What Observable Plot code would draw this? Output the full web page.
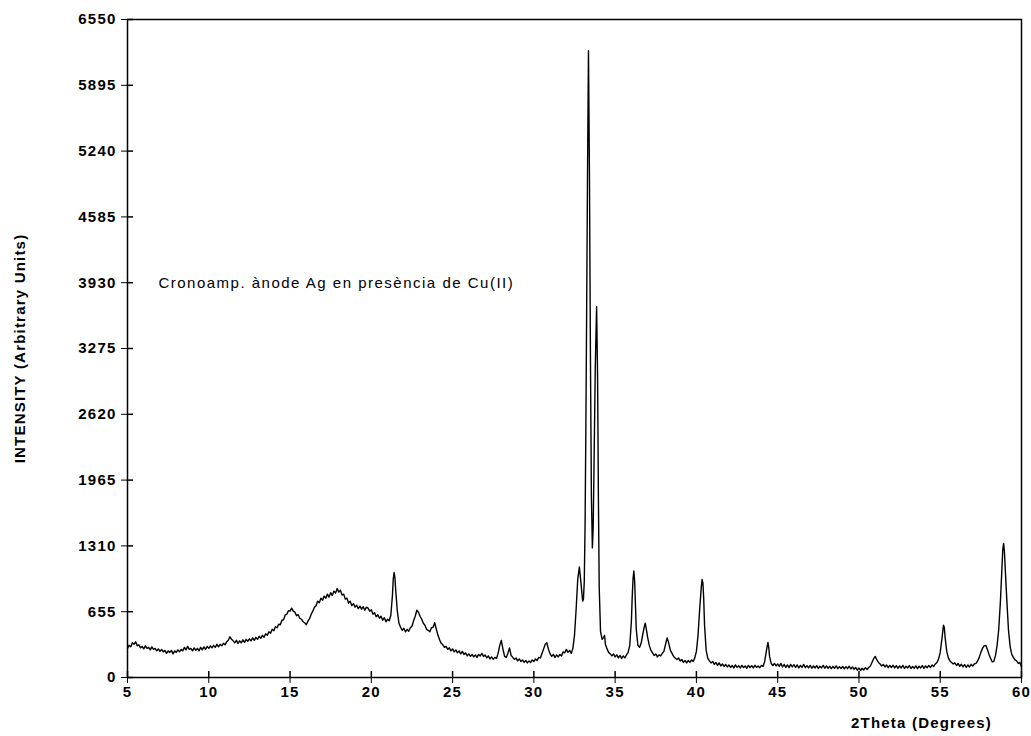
<!DOCTYPE html>
<html>
<head>
<meta charset="utf-8">
<script src="https://cdn.jsdelivr.net/npm/d3@7"></script>
<script src="https://cdn.jsdelivr.net/npm/@observablehq/plot@0.6"></script>
<style>
  html, body { margin: 0; padding: 0; background: #fff; }
  #chart svg text { letter-spacing: 1.2px; }
  #chart svg .note text, #chart svg text.note { letter-spacing: 1.5px; }
</style>
</head>
<body>
<div id="chart"></div>
<script>
// X-ray diffraction scan: [2theta (degrees), intensity (arbitrary units)]
const scan = [
[5.0,290],[5.1,320],[5.2,305],[5.3,345],[5.4,330],[5.5,355],[5.6,315],[5.7,325],[5.8,295],[5.9,310],
[6.0,285],[6.1,315],[6.2,290],[6.3,300],[6.4,275],[6.5,305],[6.6,280],[6.7,290],[6.8,265],[6.9,285],
[7.0,260],[7.1,280],[7.2,255],[7.3,270],[7.4,240],[7.5,265],[7.6,250],[7.7,270],[7.8,235],[7.9,265],
[8.0,250],[8.1,275],[8.2,255],[8.3,280],[8.4,265],[8.5,300],[8.6,275],[8.7,310],[8.8,280],[8.9,290],
[9.0,265],[9.1,295],[9.2,270],[9.3,290],[9.4,265],[9.5,300],[9.6,275],[9.7,305],[9.8,280],[9.9,310],
[10.0,290],[10.1,315],[10.2,295],[10.3,320],[10.4,300],[10.5,330],[10.6,305],[10.7,330],[10.8,315],[10.9,340],
[11.0,325],[11.1,355],[11.2,370],[11.3,405],[11.4,380],[11.5,365],[11.6,345],[11.7,370],[11.8,340],[11.9,365],
[12.0,345],[12.1,375],[12.2,350],[12.3,380],[12.4,360],[12.5,385],[12.6,365],[12.7,395],[12.8,370],[12.9,400],
[13.0,380],[13.1,410],[13.2,390],[13.3,420],[13.4,400],[13.5,435],[13.6,420],[13.7,455],[13.8,440],[13.9,480],
[14.0,465],[14.1,505],[14.2,495],[14.3,530],[14.4,525],[14.5,570],[14.6,575],[14.7,620],[14.8,630],[14.9,665],
[15.0,660],[15.1,690],[15.2,660],[15.3,650],[15.4,615],[15.5,625],[15.6,590],[15.7,580],[15.8,555],[15.9,545],
[16.0,525],[16.1,560],[16.2,585],[16.3,630],[16.4,660],[16.5,700],[16.6,715],[16.7,760],[16.8,745],[16.9,790],
[17.0,770],[17.1,810],[17.2,790],[17.3,830],[17.4,800],[17.5,845],[17.6,815],[17.7,860],[17.8,840],[17.9,885],
[18.0,850],[18.1,870],[18.2,820],[18.3,830],[18.4,780],[18.5,790],[18.6,740],[18.7,760],[18.8,715],[18.9,735],
[19.0,700],[19.1,720],[19.2,685],[19.3,710],[19.4,680],[19.5,705],[19.6,670],[19.7,700],[19.8,690],[19.9,660],
[20.0,675],[20.1,630],[20.2,645],[20.3,605],[20.4,625],[20.5,590],[20.6,610],[20.7,570],[20.8,595],[20.9,555],
[21.0,580],[21.1,565],[21.2,620],[21.3,820],[21.35,980],[21.4,1045],[21.45,1000],[21.5,870],[21.6,660],[21.7,540],[21.8,500],[21.9,470],
[22.0,490],[22.1,455],[22.2,480],[22.3,460],[22.4,495],[22.5,510],[22.6,565],[22.7,610],[22.8,670],[22.9,650],
[23.0,610],[23.1,580],[23.2,540],[23.3,520],[23.4,480],[23.5,470],[23.6,455],[23.7,495],[23.8,500],[23.9,545],
[24.0,480],[24.1,420],[24.2,375],[24.3,340],[24.4,325],[24.5,300],[24.6,310],[24.7,280],[24.8,295],[24.9,265],
[25.0,285],[25.1,255],[25.2,275],[25.3,245],[25.4,265],[25.5,235],[25.6,260],[25.7,230],[25.8,245],[25.9,215],
[26.0,235],[26.1,210],[26.2,230],[26.3,205],[26.4,225],[26.5,200],[26.6,230],[26.7,215],[26.8,240],[26.9,210],
[27.0,225],[27.1,195],[27.2,215],[27.3,185],[27.4,205],[27.5,180],[27.6,200],[27.7,190],[27.8,240],[27.9,320],
[28.0,370],[28.1,280],[28.2,210],[28.3,200],[28.4,240],[28.5,295],[28.6,220],[28.7,200],[28.8,180],[28.9,195],
[29.0,165],[29.1,185],[29.2,160],[29.3,175],[29.4,150],[29.5,170],[29.6,145],[29.7,165],[29.8,150],[29.9,175],
[30.0,160],[30.1,185],[30.2,170],[30.3,200],[30.4,195],[30.5,240],[30.6,285],[30.7,330],[30.8,345],[30.9,280],
[31.0,235],[31.1,210],[31.2,230],[31.3,200],[31.4,225],[31.5,205],[31.6,230],[31.7,215],[31.8,255],[31.9,245],
[32.0,280],[32.1,250],[32.2,270],[32.3,240],[32.4,290],[32.5,420],[32.6,680],[32.7,980],[32.8,1100],[32.9,940],
[33.0,760],[33.05,780],[33.1,950],[33.15,1500],[33.2,2500],[33.25,3700],[33.3,5000],[33.36,6240],[33.42,5000],[33.48,3200],[33.54,1800],[33.6,1290],
[33.65,1500],[33.7,2100],[33.78,3100],[33.86,3690],[33.92,3000],[33.97,1800],[34.02,900],
[34.1,460],[34.2,380],[34.3,400],[34.35,420],[34.4,330],[34.5,285],[34.6,250],[34.7,235],[34.8,215],[34.9,235],
[35.0,205],[35.1,225],[35.2,195],[35.3,220],[35.4,190],[35.5,215],[35.6,195],[35.7,225],[35.8,250],[35.9,320],
[36.0,560],[36.05,800],[36.1,980],[36.15,1060],[36.2,960],[36.25,720],[36.3,480],[36.4,320],[36.5,300],[36.6,340],[36.7,430],[36.8,510],[36.85,540],[36.9,500],
[37.0,400],[37.1,320],[37.2,270],[37.3,245],[37.4,220],[37.5,235],[37.6,205],[37.7,225],[37.8,215],[37.9,240],
[38.0,260],[38.1,330],[38.2,395],[38.3,340],[38.4,270],[38.5,240],[38.6,210],[38.7,195],[38.8,180],[38.9,195],
[39.0,165],[39.1,180],[39.2,150],[39.3,170],[39.4,145],[39.5,170],[39.6,150],[39.7,175],[39.8,160],[39.9,195],
[40.0,260],[40.1,420],[40.2,680],[40.3,900],[40.35,975],[40.4,940],[40.45,780],[40.5,520],[40.6,270],[40.7,190],[40.8,165],[40.9,145],
[41.0,160],[41.1,130],[41.2,150],[41.3,120],[41.4,145],[41.5,115],[41.6,135],[41.7,110],[41.8,130],[41.9,105],
[42.0,125],[42.1,100],[42.2,120],[42.3,95],[42.4,125],[42.5,100],[42.6,118],[42.7,95],[42.8,120],[42.9,100],
[43.0,115],[43.1,92],[43.2,120],[43.3,98],[43.4,118],[43.5,95],[43.6,122],[43.7,100],[43.8,115],[43.9,98],
[44.0,120],[44.1,110],[44.2,160],[44.3,260],[44.4,350],[44.45,300],[44.5,210],[44.6,140],[44.7,120],[44.8,140],[44.9,115],
[45.0,135],[45.1,110],[45.2,140],[45.3,105],[45.4,130],[45.5,100],[45.6,125],[45.7,98],[45.8,130],[45.9,105],
[46.0,128],[46.1,100],[46.2,125],[46.3,95],[46.4,120],[46.5,100],[46.6,130],[46.7,98],[46.8,118],[46.9,95],
[47.0,120],[47.1,92],[47.2,115],[47.3,95],[47.4,118],[47.5,90],[47.6,112],[47.7,95],[47.8,120],[47.9,92],
[48.0,115],[48.1,90],[48.2,112],[48.3,88],[48.4,110],[48.5,92],[48.6,115],[48.7,88],[48.8,108],[48.9,90],
[49.0,110],[49.1,85],[49.2,108],[49.3,88],[49.4,112],[49.5,85],[49.6,105],[49.7,82],[49.8,100],[49.9,72],
[50.0,95],[50.1,70],[50.2,92],[50.3,75],[50.4,98],[50.5,80],[50.6,100],[50.7,115],[50.8,150],[50.9,185],
[51.0,210],[51.1,175],[51.2,150],[51.3,135],[51.4,115],[51.5,130],[51.6,105],[51.7,125],[51.8,98],[51.9,120],
[52.0,100],[52.1,122],[52.2,95],[52.3,118],[52.4,92],[52.5,115],[52.6,95],[52.7,120],[52.8,90],[52.9,112],
[53.0,95],[53.1,118],[53.2,90],[53.3,110],[53.4,92],[53.5,115],[53.6,88],[53.7,112],[53.8,95],[53.9,118],
[54.0,92],[54.1,115],[54.2,98],[54.3,120],[54.4,100],[54.5,125],[54.6,110],[54.7,135],[54.8,150],[54.9,185],
[55.0,250],[55.1,380],[55.2,520],[55.25,500],[55.3,400],[55.4,260],[55.5,195],[55.6,165],[55.7,150],[55.8,135],[55.9,145],
[56.0,120],[56.1,140],[56.2,110],[56.3,132],[56.4,105],[56.5,128],[56.6,100],[56.7,125],[56.8,105],[56.9,130],
[57.0,115],[57.1,135],[57.2,140],[57.3,165],[57.4,200],[57.5,250],[57.6,290],[57.7,315],[57.8,320],[57.9,280],
[58.0,230],[58.1,190],[58.2,155],[58.3,160],[58.4,220],[58.5,320],[58.6,480],[58.7,750],[58.8,1100],[58.85,1280],[58.9,1335],[58.95,1250],
[59.0,1080],[59.1,760],[59.2,470],[59.3,310],[59.4,230],[59.5,200],[59.6,175],[59.7,165],[59.8,140],[59.9,150],[60.0,105]
];

const xTicks = [5, 10, 15, 20, 25, 30, 35, 40, 45, 50, 55, 60];
const yTicks = [0, 655, 1310, 1965, 2620, 3275, 3930, 4585, 5240, 5895, 6550];
const xTitle = "2Theta (Degrees)";
const yTitle = "INTENSITY (Arbitrary Units)";
const annotations = [{x: 6.9, y: 3930, label: "Cronoamp. ànode Ag en presència de Cu(II)"}];

const chart = Plot.plot({
  width: 1031,
  height: 736,
  marginLeft: 127,
  marginRight: 10,
  marginTop: 19,
  marginBottom: 59,
  x: {domain: [5, 60], ticks: xTicks, tickSize: 6, tickPadding: 3, tickFormat: d => String(d), label: null, line: false},
  y: {domain: [0, 6550], ticks: yTicks, tickSize: 6, tickPadding: 5, tickFormat: d => String(d), label: null, line: false},
  style: {fontFamily: "'Liberation Sans', Arial, sans-serif", fontSize: "15px", fontWeight: "bold", color: "black", background: "white", overflow: "visible"},
  marks: [
    Plot.line(scan, {x: d => d[0], y: d => d[1], stroke: "black", strokeWidth: 1.4}),
    Plot.frame({stroke: "black", strokeWidth: 1.5}),
    // inner halves of the crossing tick marks
    Plot.ruleX(xTicks, {x: d => d, y1: 0, y2: 60, stroke: "black", strokeWidth: 1.5}),
    Plot.ruleY(yTicks, {y: d => d, x1: 5, x2: 5.37, stroke: "black", strokeWidth: 1.5}),
    Plot.text([yTitle], {frameAnchor: "left", textAnchor: "middle", dx: -107, rotate: -90, fontWeight: "bold", fontSize: 15, text: d => d}),
    Plot.text([xTitle], {frameAnchor: "bottom-right", textAnchor: "middle", dx: -100, dy: 50, fontWeight: "bold", fontSize: 15, text: d => d}),
    Plot.text(annotations, {x: "x", y: "y", text: "label", textAnchor: "start", fontSize: 15, fontWeight: "normal", className: "note"})
  ]
});
document.getElementById("chart").append(chart);
</script>
</body>
</html>
